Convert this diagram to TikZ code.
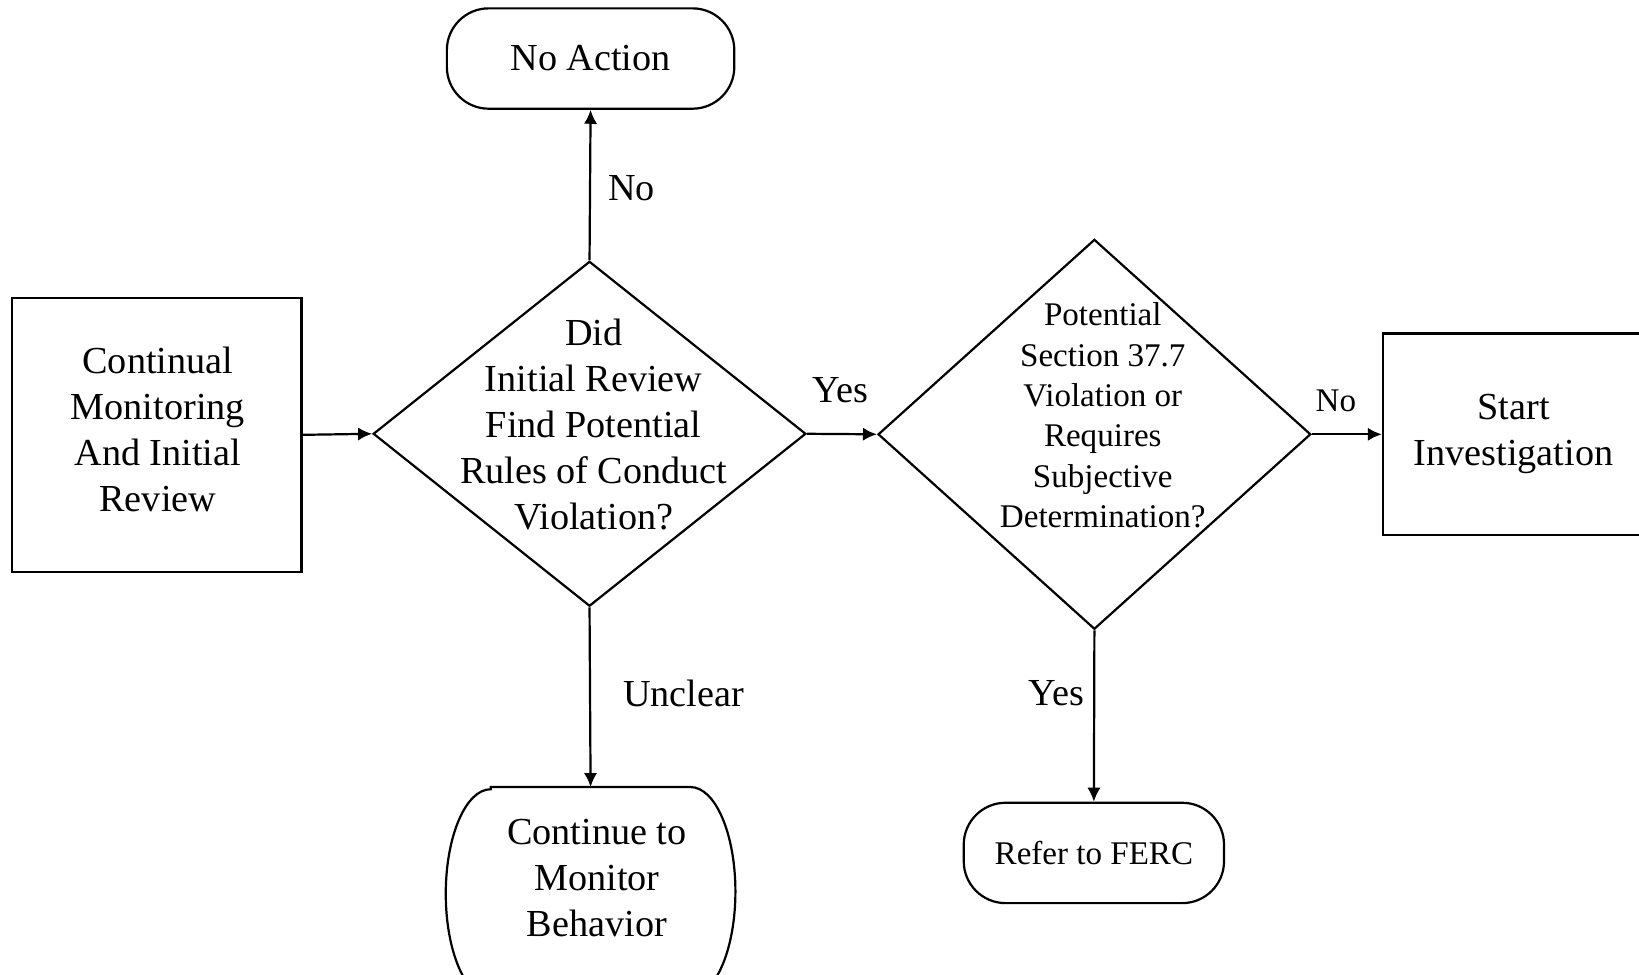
\documentclass[tikz,border=0pt]{standalone}
\usepackage{fontspec}
\setmainfont{Liberation Serif}
\usetikzlibrary{arrows.meta,shapes.geometric}
\tikzset{>={Latex[length=3.8pt,width=3.6pt]}}

\begin{document}
\begin{tikzpicture}[x=0.1mm,y=-0.1mm,line width=0.6pt,
		bigtext/.style={font=\fontsize{10.4}{12.5}\selectfont,align=center},
		smalltext/.style={font=\fontsize{9}{11}\selectfont,align=center},
		process/.style={draw,rectangle,inner sep=0pt},
		terminal/.style={draw,rectangle,rounded corners=4mm,inner sep=0pt},
		decision/.style={draw,diamond,inner sep=0pt}]
		\useasboundingbox (0,0) rectangle (1568,932);

		\node[process,minimum width=27.7mm,minimum height=26.2mm] (monitor) at (150,416) {};
		\node[bigtext] (monitortext) at (151,411) {Continual\\Monitoring\\And Initial\\Review};

		\node[decision,minimum width=41.4mm,minimum height=33mm] (q1) at (564,415) {};
		\node[bigtext] (q1text) at (568,406) {Did\\Initial Review\\Find Potential\\Rules of Conduct\\Violation?};

		\node[terminal,bigtext,minimum width=27.5mm,minimum height=9.6mm] (noaction) at (565,56) {No Action};

		\node[decision,minimum width=41.4mm,minimum height=37.3mm] (q2) at (1047,415.5) {};
		\node[smalltext] (q2text) at (1055,397.5) {Potential\\Section 37.7\\Violation or\\Requires\\Subjective\\Determination?};

		\node[process,bigtext,minimum width=25mm,minimum height=19.3mm] (invest) at (1448,415.5) {Start\\Investigation};

		\node[terminal,smalltext,minimum width=24.9mm,minimum height=9.6mm] (ferc) at (1046.5,816) {Refer to FERC};

		% barrel shaped end box, runs off the page
		\node[minimum width=27.5mm,minimum height=20mm,inner sep=0pt] (cont) at (565,854) {};
		\draw ([xshift=4.3mm]cont.north west) -- ([xshift=-4.3mm]cont.north east)
			arc[start angle=90,end angle=-90,x radius=4.3mm,y radius=10mm]
			-- ([xshift=4.3mm]cont.south west)
			arc[start angle=270,end angle=90,x radius=4.3mm,y radius=10mm] -- cycle;
		\node[bigtext] (conttext) at (571,840) {Continue to\\Monitor\\Behavior};

		\draw[->] (monitor.east) -- (q1.west);
		\draw[->] (q1.north) -- (noaction.south);
		\draw[->] (q1.east) -- (q2.west);
		\draw[->] (q1.south) -- (cont.north);
		\draw[->] (q2.east) -- (invest.west);
		\draw[->] (q2.south) -- (ferc.north);

		\node[bigtext] (lblNo) at (604,180) {No};
		\node[bigtext] (lblYes) at (804,373) {Yes};
		\node[smalltext] (lblNoRight) at (1278,383) {No};
		\node[bigtext] (lblUnclear) at (654,663) {Unclear};
		\node[bigtext] (lblYesDown) at (1011,663) {Yes};
	\end{tikzpicture}
\end{document}
